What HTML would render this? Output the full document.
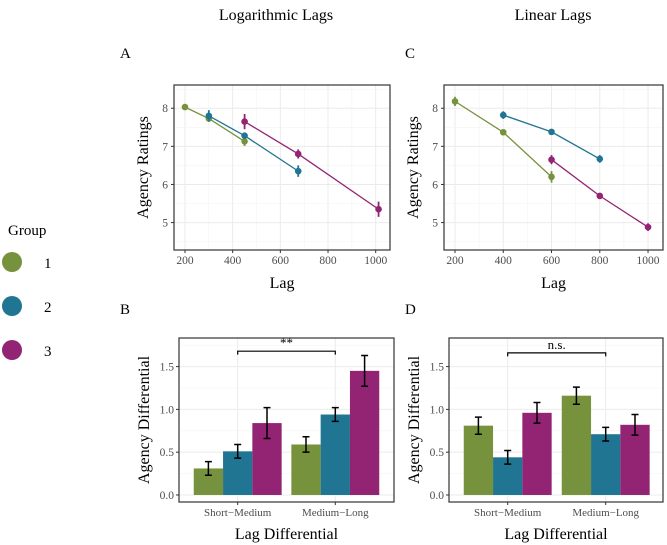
<!DOCTYPE html>
<html><head><meta charset="utf-8"><style>
body{margin:0;background:#fff;}
svg{display:block;font-family:"Liberation Serif",serif;}
</style></head><body>
<svg id="fig" width="667" height="545"></svg>
<script>
// ---- data ----
const groups=["1","2","3"];
const colors=["#76923c","#1f7592","#932373"];
const logLag=[[200,300,450],[300,450,675],[450,675,1012]];
const logVal=[[8.03,7.73,7.13],[7.80,7.28,6.35],[7.65,6.80,5.35]];
const logErr=[[0.07,0.07,0.12],[0.15,0.07,0.15],[0.20,0.12,0.20]];
const linLag=[[200,400,600],[400,600,800],[600,800,1000]];
const linVal=[[8.18,7.37,6.20],[7.82,7.38,6.67],[6.65,5.70,4.88]];
const linErr=[[0.12,0.05,0.15],[0.10,0.05,0.10],[0.12,0.05,0.10]];
const diffCats=["Short\u2212Medium","Medium\u2212Long"];
const logDiff=[[0.31,0.51,0.84],[0.59,0.94,1.45]];
const logDiffErr=[[0.08,0.08,0.18],[0.09,0.08,0.18]];
const linDiff=[[0.81,0.44,0.96],[1.16,0.71,0.82]];
const linDiffErr=[[0.10,0.08,0.12],[0.10,0.08,0.12]];
const xTicks=[200,400,600,800,1000];
const yTicks=[5,6,7,8];
const barTicks=[0,0.5,1.0,1.5];

const NS="http://www.w3.org/2000/svg";
const svg=document.getElementById('fig');
function mk(tag,attrs,parent,text){const e=document.createElementNS(NS,tag);for(const k in attrs)e.setAttribute(k,attrs[k]);if(text!==undefined)e.textContent=text;(parent||svg).appendChild(e);return e;}

function frame(g,L,T,R,B){
  mk('rect',{x:L,y:T,width:R-L,height:B-T,fill:'#fff'},g);
}
function border(g,L,T,R,B){mk('rect',{x:L,y:T,width:R-L,height:B-T,fill:'none',stroke:'#333','stroke-width':1.2},g);}

function linePanel(name,L,T,R,B,xmin,xmax,ymin,ymax,lags,vals,errs){
  const g=mk('g',{});
  
  
  const sx=v=>L+(v-xmin)/(xmax-xmin)*(R-L);
  const sy=v=>B-(v-ymin)/(ymax-ymin)*(B-T);
  frame(g,L,T,R,B);
  for(let i=0;i<xTicks.length;i++){
    mk('line',{x1:sx(xTicks[i]),x2:sx(xTicks[i]),y1:T,y2:B,stroke:'#ebebeb','stroke-width':1},g);
    if(i<xTicks.length-1){const m=(xTicks[i]+xTicks[i+1])/2;mk('line',{x1:sx(m),x2:sx(m),y1:T,y2:B,stroke:'#f3f3f3','stroke-width':0.6},g);}
  }
  for(let i=0;i<yTicks.length;i++){
    mk('line',{x1:L,x2:R,y1:sy(yTicks[i]),y2:sy(yTicks[i]),stroke:'#ebebeb','stroke-width':1},g);
    mk('line',{x1:L,x2:R,y1:sy(yTicks[i]+0.5),y2:sy(yTicks[i]+0.5),stroke:'#f3f3f3','stroke-width':0.6},g);
  }
  mk('line',{x1:L,x2:R,y1:sy(4.5),y2:sy(4.5),stroke:'#f3f3f3','stroke-width':0.6},g);
  for(let s=0;s<lags.length;s++){
    const c=colors[s];
    const sg=mk('g',{},g);
    
    
    mk('polyline',{points:lags[s].map((x,i)=>sx(x)+','+sy(vals[s][i])).join(' '),fill:'none',stroke:c,'stroke-width':1.3},sg);
    for(let i=0;i<lags[s].length;i++){
      const x=sx(lags[s][i]),y=sy(vals[s][i]),e=errs[s][i];
      mk('line',{x1:x,x2:x,y1:sy(vals[s][i]+e),y2:sy(vals[s][i]-e),stroke:c,'stroke-width':1.8},sg);
      const p=mk('circle',{cx:x,cy:y,r:3.3,fill:c},sg);
      
      
    }
  }
  border(g,L,T,R,B);
  for(const t of xTicks){
    mk('line',{x1:sx(t),x2:sx(t),y1:B,y2:B+3,stroke:'#333'},g);
    mk('text',{x:sx(t),y:B+14,'text-anchor':'middle','font-size':11.5,fill:'#4d4d4d'},g,t);
  }
  for(const t of yTicks){
    mk('line',{x1:L-3,x2:L,y1:sy(t),y2:sy(t),stroke:'#333'},g);
    mk('text',{x:L-6,y:sy(t)+4,'text-anchor':'end','font-size':11.5,fill:'#4d4d4d'},g,t);
  }
  const xt=mk('text',{x:(L+R)/2,y:B+38,'text-anchor':'middle','font-size':16,fill:'#000'},g,'Lag');
  
  const yt=mk('text',{transform:`translate(${L-26},${(T+B)/2}) rotate(-90)`,'text-anchor':'middle','font-size':16,fill:'#000'},g,'Agency Ratings');
  
}

function barPanel(name,L,T,R,B,catX,vals,errs,sigY,sigLabel){
  const g=mk('g',{});
  
  
  const ymin=-0.082,ymax=1.834;
  const sy=v=>B-(v-ymin)/(ymax-ymin)*(B-T);
  const bw=29.3;
  frame(g,L,T,R,B);
  for(const t of barTicks){
    mk('line',{x1:L,x2:R,y1:sy(t),y2:sy(t),stroke:'#ebebeb'},g);
    mk('line',{x1:L,x2:R,y1:sy(t+0.25),y2:sy(t+0.25),stroke:'#f3f3f3','stroke-width':0.6},g);
  }
  for(const cx of catX) mk('line',{x1:cx,x2:cx,y1:T,y2:B,stroke:'#ebebeb'},g);
  for(let c=0;c<catX.length;c++){
    for(let s=0;s<3;s++){
      const x0=catX[c]-1.5*bw+s*bw, v=vals[c][s], e=errs[c][s];
      const r=mk('rect',{x:x0,y:sy(v),width:bw,height:sy(0)-sy(v),fill:colors[s]},g);
      
      
      const xm=x0+bw/2;
      mk('path',{d:`M${xm-3.5},${sy(v+e)}H${xm+3.5}M${xm},${sy(v+e)}V${sy(v-e)}M${xm-3.5},${sy(v-e)}H${xm+3.5}`,stroke:'#000','stroke-width':1.5,fill:'none'},g);
    }
  }
  const br=mk('path',{d:`M${catX[0]},${sy(sigY-0.04)}V${sy(sigY)}H${catX[1]}V${sy(sigY-0.04)}`,stroke:'#000','stroke-width':1.2,fill:'none'},g);
  
  const sl=mk('text',{x:(catX[0]+catX[1])/2,y:sy(sigY)-4,'text-anchor':'middle','font-size':13,fill:'#000'},g,sigLabel);
  
  border(g,L,T,R,B);
  for(let c=0;c<catX.length;c++){
    mk('line',{x1:catX[c],x2:catX[c],y1:B,y2:B+3,stroke:'#333'},g);
    mk('text',{x:catX[c],y:B+14,'text-anchor':'middle','font-size':11,fill:'#4d4d4d'},g,diffCats[c]);
  }
  for(const t of barTicks){
    mk('line',{x1:L-3,x2:L,y1:sy(t),y2:sy(t),stroke:'#333'},g);
    mk('text',{x:L-5,y:sy(t)+4,'text-anchor':'end','font-size':11.5,fill:'#4d4d4d'},g,t.toFixed(1));
  }
  const xt=mk('text',{x:(L+R)/2,y:B+37,'text-anchor':'middle','font-size':16,fill:'#000'},g,'Lag Differential');
  
  const yt=mk('text',{transform:`translate(${L-30},${(T+B)/2}) rotate(-90)`,'text-anchor':'middle','font-size':16,fill:'#000'},g,'Agency Differential');
  
}

linePanel('panel-a-log-lags',174,85,390,250,153.9,1060,4.28,8.61,logLag,logVal,logErr);
linePanel('panel-c-linear-lags',444,85,663,250,154.4,1062,4.28,8.61,linLag,linVal,linErr);
barPanel('panel-b-log-differential',179,338,394,502,[237.7,335.3],logDiff,logDiffErr,1.68,'**');
barPanel('panel-d-linear-differential',449,338,663,502,[507.7,605.7],linDiff,linDiffErr,1.66,'n.s.');

// titles and panel letters
const titles=[['Logarithmic Lags',276,20,'title-logarithmic'],['Linear Lags',553,20,'title-linear']];
for(const t of titles){const e=mk('text',{x:t[1],y:t[2],'text-anchor':'middle','font-size':16},svg,t[0]);}
const letters=[['A',120,58],['C',405,58],['B',120,314],['D',405,314]];
for(const l of letters){const e=mk('text',{x:l[1],y:l[2],'font-size':15},svg,l[0]);}

// legend
const lg=mk('g',{});


mk('text',{x:8,y:235,'font-size':15},lg,'Group');
for(let i=0;i<3;i++){
  const cy=262+i*44;
  const c=mk('circle',{cx:12,cy:cy,r:10,fill:colors[i]},lg);
  
  
  const t=mk('text',{x:44,y:cy+6,'font-size':15},lg,groups[i]);
  
  
}
</script>
</body></html>
